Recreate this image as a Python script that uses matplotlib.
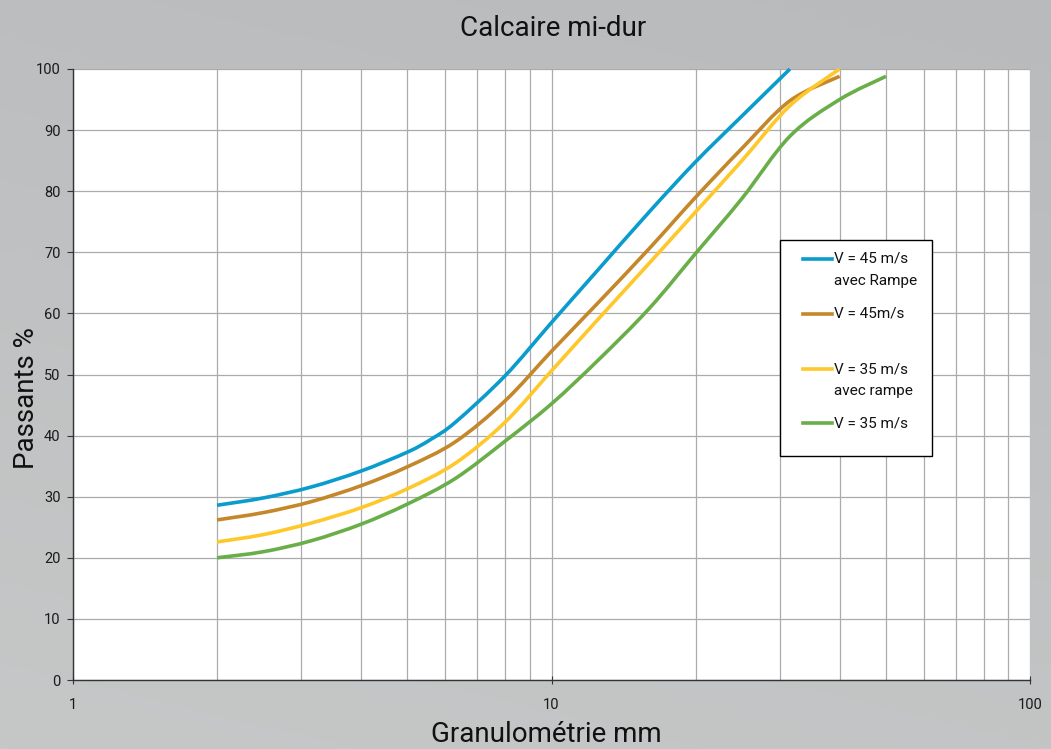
import numpy as np
import matplotlib
matplotlib.use("Agg")
import matplotlib.pyplot as plt
from matplotlib.lines import Line2D
from matplotlib.patches import Rectangle, PathPatch
from matplotlib.path import Path
from matplotlib.ticker import LogLocator, NullFormatter, FixedLocator, FixedFormatter

# ---------------- data ----------------
blue_x = [2, 2.5, 3.15, 4, 5, 5.6, 6.3, 8, 10, 12.5, 16, 20, 25, 31.5]
blue_y = [28.6, 29.8, 31.6, 34.2, 37.3, 39.4, 42.2, 49.8, 58.5, 67.1, 76.6, 84.8, 92.3, 100.0]

brown_x = [2, 2.5, 3.15, 4, 5, 6.3, 8, 10, 12.5, 16, 20, 25, 31.5, 40]
brown_y = [26.2, 27.4, 29.2, 31.8, 34.9, 39.0, 45.7, 53.8, 61.7, 70.6, 79.0, 87.0, 94.8, 98.8]

yellow_x = [2, 2.5, 3.15, 4, 5, 6.3, 8, 10, 12.5, 16, 20, 25, 31.5, 40]
yellow_y = [22.6, 23.8, 25.7, 28.2, 31.3, 35.5, 42.2, 50.6, 59.0, 68.2, 76.6, 85.0, 94.0, 100.0]

green_x = [2, 2.5, 3.15, 4, 5, 6.3, 8, 10, 12.5, 16, 20, 25, 31.5, 40, 50]
green_y = [20.0, 21.0, 22.8, 25.5, 28.8, 33.0, 39.1, 45.2, 52.3, 60.8, 69.8, 78.8, 89.0, 95.0, 98.8]

series_labels = [["V = 45 m/s", "avec Rampe"], ["V = 45m/s"], ["V = 35 m/s", "avec rampe"], ["V = 35 m/s"]]
colors = ["#0a9ccc", "#c4872a", "#fec82a", "#6aae4a"]

y_ticks = [0, 10, 20, 30, 40, 50, 60, 70, 80, 90, 100]
x_ticks = [1, 10, 100]
x_tick_labels = ["1", "10", "100"]

title = "Calcaire mi-dur"
xlabel = "Granulométrie mm"
ylabel = "Passants %"

plt.rcParams['font.family'] = ['Roboto', 'DejaVu Sans']

W, H = 1051, 749
fig = plt.figure(figsize=(W / 100, H / 100), dpi=100)

# gradient background
bg = fig.add_axes([0, 0, 1, 1], zorder=-10)
gx, gy = np.meshgrid(np.linspace(0, 1, 200), np.linspace(0, 1, 200))
t = 0.75 * gy + 0.25 * (1 - gx)
c_top = np.array([185, 186, 188]) / 255
c_bot = np.array([198, 200, 200]) / 255
img = c_top[None, None, :] * (1 - t[..., None]) + c_bot[None, None, :] * t[..., None]
bg.imshow(img, aspect='auto', extent=[0, 1, 0, 1])
bg.axis('off')

L, R, T, B = 73, 1030, 69, 680
ax = fig.add_axes([L / W, 1 - B / H, (R - L) / W, (B - T) / H])
ax.set_facecolor('white')
ax.set_xscale('log')
ax.set_xlim(1, 100)
ax.set_ylim(0, 100)


def smooth_path(xs, ys):
    """Excel-like smoothed line: Catmull-Rom segments as cubic Bezier (in log-x space)."""
    u = np.log10(np.asarray(xs, float))
    v = np.asarray(ys, float)
    P = np.column_stack([u, v])
    n = len(P)
    verts = [P[0]]
    codes = [Path.MOVETO]
    for i in range(n - 1):
        p0 = P[i - 1] if i > 0 else P[i]
        p1, p2 = P[i], P[i + 1]
        p3 = P[i + 2] if i + 2 < n else P[i + 1]
        c1 = p1 + (p2 - p0) / 6.0
        c2 = p2 - (p3 - p1) / 6.0
        verts += [c1, c2, p2]
        codes += [Path.CURVE4] * 3
    verts = np.array(verts)
    verts[:, 0] = 10 ** verts[:, 0]
    return Path(verts, codes)


for xs, ys, c in zip([blue_x, brown_x, yellow_x, green_x], [blue_y, brown_y, yellow_y, green_y], colors):
    patch = PathPatch(smooth_path(xs, ys), facecolor='none', edgecolor=c, lw=2.6,
                      capstyle='butt', joinstyle='round', zorder=3, transform=ax.transData)
    patch.set_clip_on(False)
    ax.add_patch(patch)

ax.xaxis.set_major_locator(FixedLocator(x_ticks))
ax.xaxis.set_major_formatter(FixedFormatter(x_tick_labels))
ax.xaxis.set_minor_locator(LogLocator(base=10, subs=np.arange(2, 10)))
ax.xaxis.set_minor_formatter(NullFormatter())
ax.set_yticks(y_ticks)

ax.grid(True, which='both', axis='x', color='#ababab', lw=0.9)
ax.grid(True, which='major', axis='y', color='#ababab', lw=0.9)
ax.set_axisbelow(True)

for s in ['top', 'right']:
    ax.spines[s].set_visible(False)
for s in ['left', 'bottom']:
    ax.spines[s].set_color('#333333')
    ax.spines[s].set_linewidth(1.0)

ax.tick_params(axis='y', which='major', direction='out', length=4, width=0.8, color='#333333',
               labelsize=10.5, labelcolor='#1a1a1a', pad=5)
ax.tick_params(axis='x', which='major', direction='inout', length=6, width=0.8, color='#333333',
               labelsize=10.5, labelcolor='#1a1a1a', pad=10)
ax.tick_params(axis='x', which='minor', length=0)

fig.text(553 / W, 1 - 28 / H, title, ha='center', va='center', fontsize=20, color='#111111')
fig.text(546 / W, 1 - 735 / H, xlabel, ha='center', va='center', fontsize=20, color='#111111')
fig.text(27 / W, 1 - 398 / H, ylabel, ha='center', va='center', rotation=90, fontsize=20, color='#111111')

# legend box (manual, to match layout)
lx0, ly0, lx1, ly1 = 780, 240, 932, 456
fig.patches.append(Rectangle((lx0 / W, 1 - ly1 / H), (lx1 - lx0) / W, (ly1 - ly0) / H,
                             transform=fig.transFigure, facecolor='white', edgecolor='black',
                             lw=1.0, zorder=5))
entry_y = [259, 314, 369, 423]
for c, lab, yy in zip(colors, series_labels, entry_y):
    fig.lines.append(Line2D([803 / W, 832 / W], [1 - yy / H, 1 - yy / H], transform=fig.transFigure,
                            color=c, lw=2.6, zorder=6))
    for k, line in enumerate(lab):
        fig.text(834 / W, 1 - (yy + k * 21.5) / H, line, ha='left', va='center', fontsize=11,
                 color='#111111', zorder=7)

fig.savefig('out.png', dpi=100)
